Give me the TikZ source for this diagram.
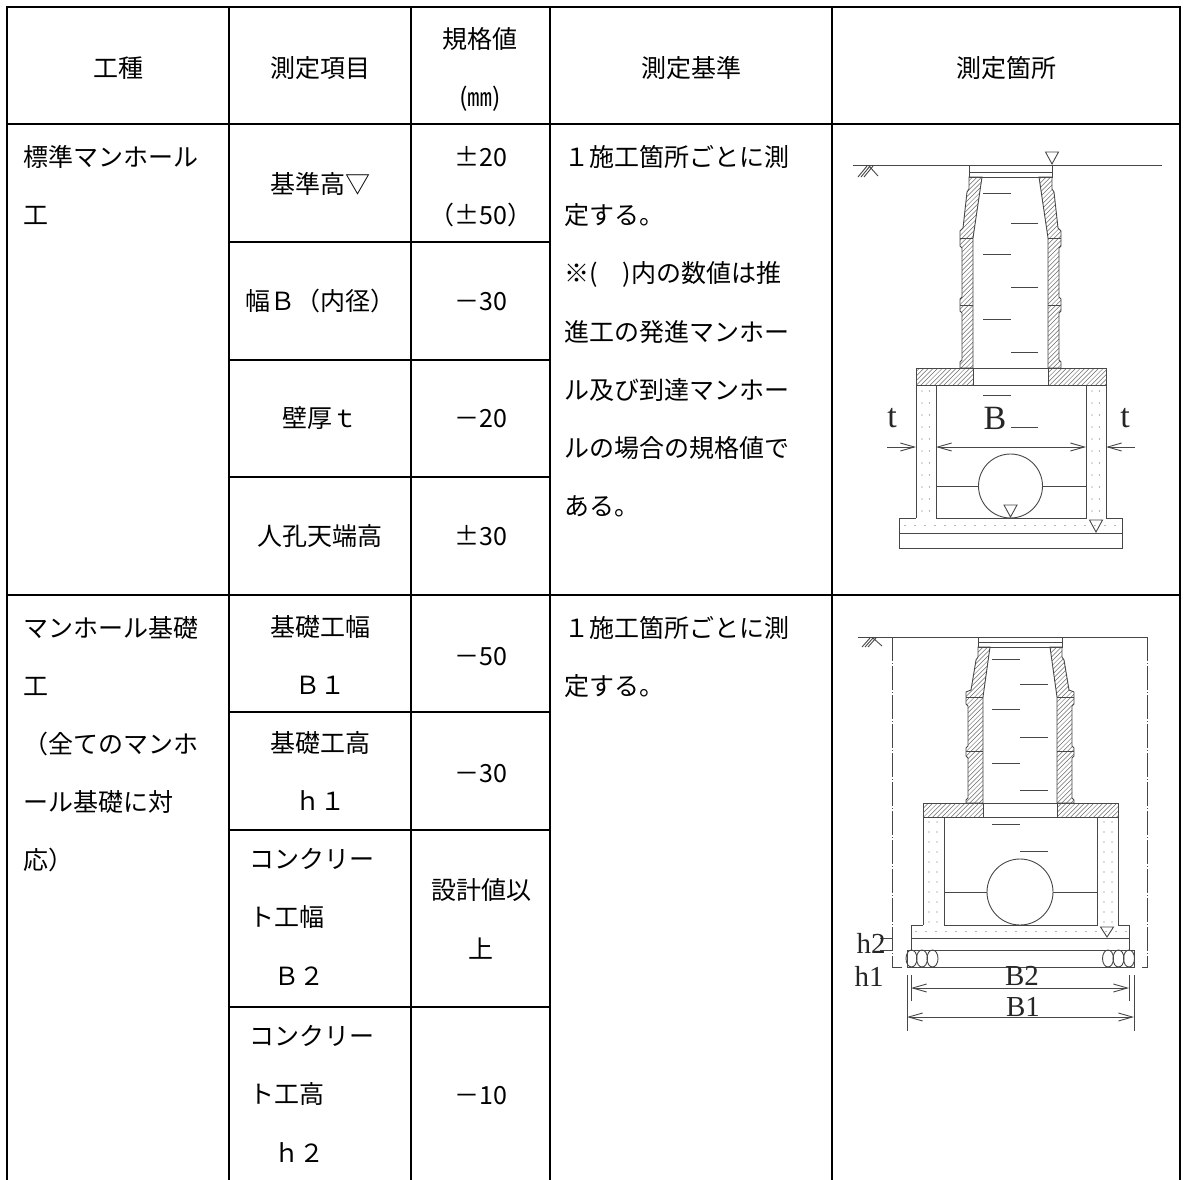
\documentclass[tikz,border=0pt]{standalone}
\usepackage{fontspec}
\newfontfamily\jp{Noto Sans CJK JP}
\newfontfamily\labf{Liberation Serif}
\usetikzlibrary{arrows.meta}
\newcommand\jpfont{\jp\fontsize{25pt}{30pt}\selectfont}
\newcommand\labfont{\labf\fontsize{34pt}{40pt}\selectfont}
\newcommand\labfontb{\labf\fontsize{29pt}{34pt}\selectfont}
\newcommand\hatchin[2]{\begin{scope}\clip #2; \foreach \a in {640,644.6,...,1130}{\draw[hatchln] (\a,#1) -- ++(300,-300);}\end{scope}}
\tikzset{
  tbl/.style={line width=2.2pt, black, line cap=rect},
  dr/.style={line width=0.9pt, draw=black!72},
  hatchln/.style={line width=0.5pt, black!58},
  dotf/.style={fill=black!55},
  barb/.tip={Straight Barb[length=14pt,width=8pt]},
  dimln/.style={dr, barb-barb},
  arrln/.style={dr, -barb},
  dashdot/.style={dr, dash pattern=on 24pt off 2pt on 1pt off 2pt},
  txt/.style={inner sep=0pt, text height=22pt, text depth=3pt, font=\jpfont},
  lab/.style={inner sep=0pt, font=\labfont, text=black!85},
  labb/.style={inner sep=0pt, font=\labfontb, text=black!85},
}
\begin{document}
\begin{tikzpicture}[x=1pt,y=-1pt]
\fill[white] (0,0) rectangle (1186,1180);
\useasboundingbox (0,0) rectangle (1186,1180);

% ---------------- table grid ----------------
\draw[tbl] (7,1185) -- (7,7) -- (1180,7) -- (1180,1185);
\draw[tbl] (7,124) -- (1180,124);
\draw[tbl] (7,595) -- (1180,595);
\foreach \x in {229,411,550,832} {\draw[tbl] (\x,7) -- (\x,1185);}
\foreach \y in {242,360,477,712,830,1007} {\draw[tbl] (229,\y) -- (550,\y);}

% ---------------- header ----------------
\node[txt] (hA) at (118,68) {工種};
\node[txt] (hB) at (320,68) {測定項目};
\node[txt] (hC1) at (480,39) {規格値};
\node[txt] (hC2) at (480,97) {(㎜)};
\node[txt] (hD) at (691,68) {測定基準};
\node[txt] (hE) at (1006,68) {測定箇所};

% ---------------- row 1 ----------------
\node[txt,anchor=west] (r1a1) at (23,157) {標準マンホール};
\node[txt,anchor=west] (r1a2) at (23,215) {工};
\node[txt] (r1b1) at (320,184) {基準高▽};
\node[txt] (r1b2) at (320,301) {幅Ｂ（内径）};
\node[txt] (r1b3) at (320,418) {壁厚ｔ};
\node[txt] (r1b4) at (320,536) {人孔天端高};
\node[txt] (r1c1) at (481,157) {±20};
\node[txt] (r1c2) at (481,215) {（±50）};
\node[txt] (r1c3) at (481,301) {－30};
\node[txt] (r1c4) at (481,418) {－20};
\node[txt] (r1c5) at (481,536) {±30};
\node[txt,anchor=west] (r1d1) at (564,157) {１施工箇所ごとに測};
\node[txt,anchor=west] (r1d2) at (564,215) {定する。};
\node[txt,anchor=west] (r1d3) at (564,273) {※(　)内の数値は推};
\node[txt,anchor=west] (r1d4) at (564,332) {進工の発進マンホー};
\node[txt,anchor=west] (r1d5) at (564,390) {ル及び到達マンホー};
\node[txt,anchor=west] (r1d6) at (564,448) {ルの場合の規格値で};
\node[txt,anchor=west] (r1d7) at (564,506) {ある。};

% ---------------- row 2 ----------------
\node[txt,anchor=west] (r2a1) at (23,628) {マンホール基礎};
\node[txt,anchor=west] (r2a2) at (23,686) {工};
\node[txt,anchor=west] (r2a3) at (23,744) {（全てのマンホ};
\node[txt,anchor=west] (r2a4) at (23,802) {ール基礎に対};
\node[txt,anchor=west] (r2a5) at (23,860) {応）};
\node[txt] (r2b1) at (320,627) {基礎工幅};
\node[txt] (r2b2) at (320,685) {Ｂ１};
\node[txt] (r2b3) at (320,743) {基礎工高};
\node[txt] (r2b4) at (320,801) {ｈ１};
\node[txt,anchor=west] (r2b5) at (249,859) {コンクリー};
\node[txt,anchor=west] (r2b6) at (249,917) {ト工幅};
\node[txt,anchor=west] (r2b7) at (249,976) {　Ｂ２};
\node[txt,anchor=west] (r2b8) at (249,1036) {コンクリー};
\node[txt,anchor=west] (r2b9) at (249,1094) {ト工高};
\node[txt,anchor=west] (r2b10) at (249,1153) {　ｈ２};
\node[txt] (r2c1) at (481,656) {－50};
\node[txt] (r2c2) at (481,773) {－30};
\node[txt] (r2c3) at (481,890) {設計値以};
\node[txt] (r2c4) at (481,949) {上};
\node[txt] (r2c5) at (481,1095) {－10};
\node[txt,anchor=west] (r2d1) at (564,628) {１施工箇所ごとに測};
\node[txt,anchor=west] (r2d2) at (564,686) {定する。};

% ================= drawing 1 =================
\hatchin{390}{(969,177) -- (969,189) -- (967,192) -- (963,228) -- (960,231) -- (960,246) -- (962,248) -- (962,297) -- (960,299) -- (960,311) -- (962,313) -- (962,360) -- (960,362) -- (960,368) -- (973,368) -- (973,238) -- (982,177) -- cycle}
\hatchin{390}{(1052,177) -- (1052,189) -- (1054,192) -- (1058,228) -- (1061,231) -- (1061,246) -- (1059,248) -- (1059,297) -- (1061,299) -- (1061,311) -- (1059,313) -- (1059,360) -- (1061,362) -- (1061,368) -- (1048,368) -- (1048,238) -- (1039,177) -- cycle}
\hatchin{390}{(916,368) rectangle (973,385)}
\hatchin{390}{(1048,368) rectangle (1106,385)}
% ground
\draw[dr] (853,165) -- (1162,165);
\draw[dr] (858,177) -- (867,166) (861,177) -- (870,166) (864,177) -- (873,166) (869,166) -- (878,176);
\draw[dr] (1045.5,152) -- (1058.5,152) -- (1052,164) -- cycle;
% cover
\draw[dr] (969,165) rectangle (1052,177);
\draw[dr] (969,172) -- (1052,172);
% shaft walls
\draw[dr] (969,177) -- (969,189) -- (967,192) -- (963,228) -- (960,231) -- (960,246) -- (962,248) -- (962,297) -- (960,299) -- (960,311) -- (962,313) -- (962,360) -- (960,362) -- (960,368) -- (973,368) -- (973,238) -- (982,177) -- cycle;
\draw[dr] (1052,177) -- (1052,189) -- (1054,192) -- (1058,228) -- (1061,231) -- (1061,246) -- (1059,248) -- (1059,297) -- (1061,299) -- (1061,311) -- (1059,313) -- (1059,360) -- (1061,362) -- (1061,368) -- (1048,368) -- (1048,238) -- (1039,177) -- cycle;
\draw[dr] (960,238) -- (973,238) (960,305) -- (973,305) (1048,238) -- (1061,238) (1048,305) -- (1061,305);
% slab
\draw[dr] (916,368) rectangle (1106,385);
\draw[dr] (973,368) -- (973,385) (1048,368) -- (1048,385);
% chamber
\draw[dr] (916,385) -- (916,518) (1106,385) -- (1106,518);
\draw[dr] (936,385) -- (936,518) -- (1086,518) -- (1086,385);
% base
\draw[dr] (899,533) -- (899,518) -- (916,518) (1106,518) -- (1122,518) -- (1122,533);
\draw[dr] (899,533) rectangle (1122,548);
% dots
\foreach \y in {391,403,...,512} {\fill[dotf] (922,\y) circle[radius=0.6pt] (929.5,\y) circle[radius=0.6pt] (1092,\y) circle[radius=0.6pt] (1099.5,\y) circle[radius=0.6pt];}
\foreach \x in {905,915,...,1118} {\fill[dotf] (\x,525.5) circle[radius=0.6pt];}
% pipe
\draw[dr] (1010.5,486) circle[radius=32pt];
\draw[dr] (936,486) -- (978.5,486) (1042.5,486) -- (1086,486);
\draw[dr] (1004,505) -- (1017,505) -- (1010.5,517) -- cycle;
\draw[dr] (1089.5,520) -- (1102.5,520) -- (1096,532) -- cycle;
% ladder steps
\foreach \y in {193,254,319,395} {\draw[dr] (983,\y) -- (1011,\y);}
\foreach \y in {223,287,352,427} {\draw[dr] (1011,\y) -- (1038,\y);}
% dimensions
\node[lab] (lt1) at (892,418) {t};
\node[lab] (lB) at (995,418) {B};
\node[lab] (lt2) at (1125,418) {t};
\coordinate (bL) at (936,447);
\coordinate (bR) at (1086,447);
\coordinate (tL0) at (887,447);
\coordinate (tL1) at (916,447);
\coordinate (tR0) at (1135,447);
\coordinate (tR1) at (1106,447);
\draw[dimln] (bL) -- (bR);
\draw[arrln] (tL0) -- (tL1);
\draw[arrln] (tR0) -- (tR1);

% ================= drawing 2 =================
\hatchin{820}{(978,647) -- (978,657) -- (976,660) -- (971,690) -- (966,692) -- (966,704) -- (968,706) -- (968,746) -- (966,748) -- (966,756) -- (968,758) -- (968,798) -- (966,800) -- (966,803) -- (983,803) -- (983,697) -- (990,647) -- cycle}
\hatchin{820}{(1062,647) -- (1062,657) -- (1064,660) -- (1069,690) -- (1074,692) -- (1074,704) -- (1072,706) -- (1072,746) -- (1074,748) -- (1074,756) -- (1072,758) -- (1072,798) -- (1074,800) -- (1074,803) -- (1057,803) -- (1057,697) -- (1050,647) -- cycle}
\hatchin{820}{(923,803) rectangle (983,817)}
\hatchin{820}{(1057,803) rectangle (1118,817)}
% ground
\draw[dr] (858,637) -- (1147,637);
\draw[dr] (862,647) -- (870,638) (865,647) -- (873,638) (868,647) -- (876,638) (873,638) -- (882,646);
% excavation outline
\draw[dashdot] (892,637) -- (892,967) -- (902,967);
\draw[dashdot] (1147,637) -- (1147,967) -- (1142,967);
% cover
\draw[dr] (978,637) rectangle (1062,647);
\draw[dr] (978,642) -- (1062,642);
% shaft walls
\draw[dr] (978,647) -- (978,657) -- (976,660) -- (971,690) -- (966,692) -- (966,704) -- (968,706) -- (968,746) -- (966,748) -- (966,756) -- (968,758) -- (968,798) -- (966,800) -- (966,803) -- (983,803) -- (983,697) -- (990,647) -- cycle;
\draw[dr] (1062,647) -- (1062,657) -- (1064,660) -- (1069,690) -- (1074,692) -- (1074,704) -- (1072,706) -- (1072,746) -- (1074,748) -- (1074,756) -- (1072,758) -- (1072,798) -- (1074,800) -- (1074,803) -- (1057,803) -- (1057,697) -- (1050,647) -- cycle;
\draw[dr] (966,697) -- (983,697) (966,751) -- (983,751) (1057,697) -- (1074,697) (1057,751) -- (1074,751);
% slab
\draw[dr] (923,803) rectangle (1118,817);
\draw[dr] (983,803) -- (983,817) (1057,803) -- (1057,817);
% chamber
\draw[dr] (923,817) -- (923,925) (1118,817) -- (1118,925);
\draw[dr] (944,817) -- (944,925) -- (1097,925) -- (1097,817);
% base
\draw[dr] (911,938) -- (911,925) -- (923,925) (1118,925) -- (1129,925) -- (1129,938);
\draw[dr] (911,938) rectangle (1129,950);
% gravel
\draw[dr] (907,950) rectangle (1134,967);
\foreach \x in {911.5,922,932.5,1108,1118.5,1129} {\draw[dr] (\x,958.5) ellipse[x radius=5.5pt, y radius=8.5pt];}
% dots
\foreach \y in {822,832,...,922} {\fill[dotf] (929,\y) circle[radius=0.6pt] (937,\y) circle[radius=0.6pt] (1104,\y) circle[radius=0.6pt] (1112,\y) circle[radius=0.6pt];}
\foreach \x in {916,926,...,1127} {\fill[dotf] (\x,931.5) circle[radius=0.6pt];}
% pipe
\draw[dr] (1020,892) circle[radius=33pt];
\draw[dr] (944,892) -- (987,892) (1053,892) -- (1097,892);
\draw[dr] (1100.5,927) -- (1113.5,927) -- (1107,937) -- cycle;
% ladder steps
\foreach \y in {659,709,763,824} {\draw[dr] (992,\y) -- (1020,\y);}
\foreach \y in {684,737,790,851} {\draw[dr] (1020,\y) -- (1048,\y);}
% h ticks
\draw[dr] (880,938) -- (892,938) (880,950) -- (892,950);
% dimensions
\node[labb] (lh2) at (871,943) {h2};
\node[labb] (lh1) at (869,976) {h1};
\node[labb] (lB2) at (1022,976) {B2};
\node[labb] (lB1) at (1023,1007) {B1};
\draw[dr] (911,975) -- (911,1001) (1129,975) -- (1129,1001);
\draw[dr] (907,975) -- (907,1031) (1134,975) -- (1134,1031);
\coordinate (b2L) at (911,988);
\coordinate (b2R) at (1129,988);
\coordinate (b1L) at (907,1017);
\coordinate (b1R) at (1134,1017);
\draw[dimln] (b2L) -- (b2R);
\draw[dimln] (b1L) -- (b1R);
\end{tikzpicture}
\end{document}
